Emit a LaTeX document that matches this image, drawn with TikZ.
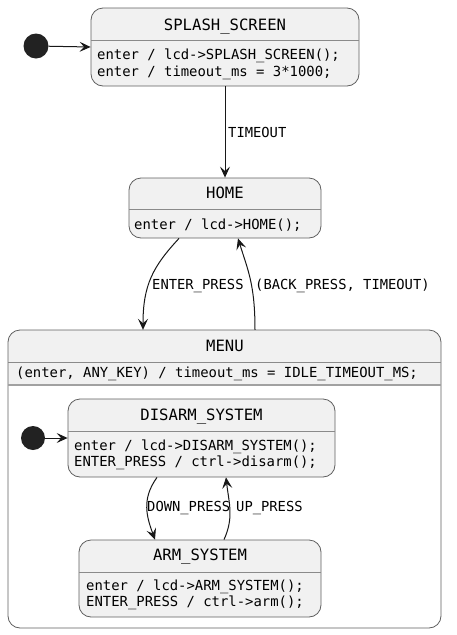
\documentclass[tikz,border=0pt]{standalone}
\usepackage{fontspec}
\setmonofont{DejaVu Sans Mono}
\usetikzlibrary{arrows.meta}
\definecolor{boxfill}{HTML}{F1F1F1}
\definecolor{boxline}{HTML}{5F5F5F}
\definecolor{divline}{HTML}{8A8A8A}
\definecolor{dotfill}{HTML}{222222}
\definecolor{arrline}{HTML}{181818}
\tikzset{
  statebox/.style={draw=boxline, fill=boxfill, line width=0.8pt, rounded corners=12pt, inner sep=0pt},
  initdot/.style={circle, fill=dotfill, draw=none, minimum size=25pt, inner sep=0pt},
  divider/.style={draw=divline, line width=0.8pt},
  titletxt/.style={font=\ttfamily\fontsize{15.6}{18}\selectfont, anchor=base, inner sep=0pt},
  bodytxt/.style={font=\ttfamily\fontsize{13.9}{16}\selectfont, anchor=base west, inner sep=0pt},
  lbltxt/.style={font=\ttfamily\fontsize{13.8}{16}\selectfont, anchor=base west, inner sep=0pt},
  arr/.style={draw=arrline, line width=1pt, -{Stealth[length=11pt,width=10pt,inset=4.5pt]}},
}
\begin{document}
\begin{tikzpicture}[x=1pt,y=-1pt]
\useasboundingbox (0,0) rectangle (457,635);

% SPLASH_SCREEN
\node[statebox, minimum width=268pt, minimum height=78pt] (splash) at (225,47) {};
\draw[divider] (91,40) -- (359,40);
\node[titletxt] (splashT) at (225,30) {SPLASH\_SCREEN};
\node[bodytxt] (splashA) at (97,59.5) {enter / lcd->SPLASH\_SCREEN();};
\node[bodytxt] (splashB) at (97,76) {enter / timeout\_ms = 3*1000;};
\node[initdot] (init1) at (36,46) {};

% HOME
\node[statebox, minimum width=192pt, minimum height=60pt] (home) at (225,208) {};
\draw[divider] (129,209.5) -- (321,209.5);
\node[titletxt] (homeT) at (225,198.5) {HOME};
\node[bodytxt] (homeA) at (134,229.5) {enter / lcd->HOME();};

% MENU
\node[draw=none, fill=white, rounded corners=12pt, minimum width=433pt, minimum height=298pt, inner sep=0pt] (menu) at (224.5,479) {};
\fill[boxfill, rounded corners=12pt] (8,385) -- (8,330) -- (441,330) -- (441,385);
\draw[draw=boxline, line width=0.8pt, rounded corners=12pt] (8,330) rectangle (441,628);
\draw[divider] (8,362) -- (441,362);
\draw[draw=divline!80, line width=1.6pt] (8.4,385) -- (440.6,385);
\node[titletxt] (menuT) at (225,351.7) {MENU};
\node[bodytxt] (menuA) at (16,377.3) {(enter, ANY\_KEY) / timeout\_ms = IDLE\_TIMEOUT\_MS;};

% DISARM_SYSTEM
\node[statebox, minimum width=267pt, minimum height=78pt] (disarm) at (201.5,438) {};
\draw[divider] (68,431) -- (335,431);
\node[titletxt] (disarmT) at (201.5,420) {DISARM\_SYSTEM};
\node[bodytxt] (disarmA) at (74,450) {enter / lcd->DISARM\_SYSTEM();};
\node[bodytxt] (disarmB) at (74,466) {ENTER\_PRESS / ctrl->disarm();};
\node[initdot, minimum size=24pt] (init2) at (33,438) {};

% ARM_SYSTEM
\node[statebox, minimum width=242pt, minimum height=77pt] (arm) at (200,578.5) {};
\draw[divider] (79,572) -- (321,572);
\node[titletxt] (armT) at (200,560) {ARM\_SYSTEM};
\node[bodytxt] (armA) at (86,590.7) {enter / lcd->ARM\_SYSTEM();};
\node[bodytxt] (armB) at (86,606.7) {ENTER\_PRESS / ctrl->arm();};

% connectors
\draw[arr] (init1) -- (splash.west);
\draw[arr] (splash.south) -- (home.north);
\node[lbltxt] (lblTimeout) at (228,137) {TIMEOUT};

\draw[arr] ([xshift=-46pt]home.south) .. controls +(-26,28) and +(0,-45) .. ([xshift=-81.5pt]menu.north);
\draw[arr] ([xshift=30.5pt]menu.north) .. controls +(0,-45) and +(10,32) .. ([xshift=13pt]home.south);
\node[lbltxt] (lblEnter) at (152,289) {ENTER\_PRESS};
\node[lbltxt] (lblBack) at (255,289) {(BACK\_PRESS, TIMEOUT)};

\draw[arr] (init2) -- (disarm.west);
\draw[arr] ([xshift=-44.5pt]disarm.south) .. controls +(-16,22) and +(-8,-22) .. ([xshift=-45pt]arm.north);
\draw[arr] ([xshift=24pt]arm.north) .. controls +(10,-22) and +(3,26) .. ([xshift=24.5pt]disarm.south);
\node[lbltxt] (lblDown) at (147,511.7) {DOWN\_PRESS};
\node[lbltxt] (lblUp) at (236,511.7) {UP\_PRESS};
\end{tikzpicture}
\end{document}
